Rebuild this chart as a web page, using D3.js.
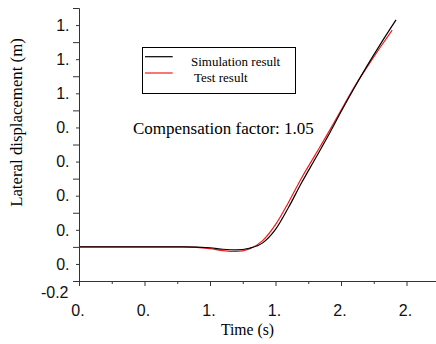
<!DOCTYPE html>
<html>
<head>
<meta charset="utf-8">
<script src="https://cdn.jsdelivr.net/npm/d3@7"></script>
<style>
  html, body { margin: 0; padding: 0; background: #fff; }
  svg { display: block; }
</style>
</head>
<body>
<svg id="chart" width="436" height="344"></svg>
<script>
// ---- data ----
const simTime  = [0, 0.4, 0.8, 1.0, 1.1, 1.2, 1.3, 1.4, 1.5, 1.6, 1.7, 1.8, 1.9, 2.0, 2.1, 2.2, 2.3, 2.42];
const simDisp  = [0, 0, 0, -0.005, -0.014, -0.018, -0.008, 0.022, 0.102, 0.232, 0.377, 0.512, 0.648, 0.792, 0.93, 1.062, 1.187, 1.33];
const testTime = [0, 0.4, 0.8, 1.0, 1.1, 1.2, 1.3, 1.4, 1.5, 1.6, 1.7, 1.8, 1.9, 2.0, 2.1, 2.2, 2.3, 2.39];
const testDisp = [0, 0, 0, -0.01, -0.022, -0.027, -0.012, 0.035, 0.13, 0.262, 0.405, 0.535, 0.665, 0.8, 0.935, 1.055, 1.17, 1.27];

const yMajor = [1.4, 1.2, 1.0, 0.8, 0.6, 0.4, 0.2, 0.0];
const yTickLabels = ["1.", "1.", "1.", "0.", "0.", "0.", "0.", "0."];
const yBottomValue = -0.2;
const yBottomLabel = "-0.2";
const xMajor = [0, 0.5, 1.0, 1.5, 2.0, 2.5];
const xTickLabels = ["0.", "0.", "1.", "1.", "2.", "2."];

const seriesNames = ["Simulation result", "Test result"];
const annotation = "Compensation factor: 1.05";
const xTitle = "Time (s)";
const yTitle = "Lateral displacement (m)";

// ---- layout ----
const SANS = "'Liberation Sans', Arial, sans-serif";
const SERIF = "'Liberation Serif', 'Times New Roman', serif";
const svg = d3.select("#chart");
const x0 = 79, xRight = 436, yBottom = 281, yTop = 8;
const x = d3.scaleLinear().domain([0, (xRight - x0) / 131]).range([x0, xRight]);
const y = d3.scaleLinear().domain([-0.2, 1.4]).range([yBottom, yTop]);
const axisColor = "#333";
const redColor = "#ee1c1c";

// curves
const line = d3.line().x(d => x(d[0])).y(d => y(d[1])).curve(d3.curveMonotoneX);
svg.append("path").datum(testTime.map((t, i) => [t, testDisp[i]]))
  .attr("d", line).attr("fill", "none").attr("stroke", redColor).attr("stroke-width", 1.2);
svg.append("path").datum(simTime.map((t, i) => [t, simDisp[i]]))
  .attr("d", line).attr("fill", "none").attr("stroke", "#000").attr("stroke-width", 1.2);

// y axis
const yMinor = d3.range(8).map(i => -0.1 + 0.2 * i);
const yAxisG = svg.append("g").attr("transform", `translate(${x0},0)`);
yAxisG.call(d3.axisLeft(y).tickValues(yMajor.concat([yBottomValue])).tickSize(6).tickSizeOuter(0).tickFormat(""));
yAxisG.append("g").call(d3.axisLeft(y).tickValues(yMinor).tickSize(3).tickSizeOuter(0).tickFormat(""));
yAxisG.selectAll(".domain").attr("stroke", axisColor);
yAxisG.selectAll(".tick line").attr("stroke", axisColor);
// labels (offset half-step below major ticks, as in the reference)
yAxisG.selectAll("text.ylab").data(yMajor).enter().append("text")
  .attr("class", "ylab")
  .attr("x", -9.5)
  .attr("y", d => y(d - 0.1) + 5.7)
  .attr("text-anchor", "end")
  .style("font-family", SANS)
  .attr("font-size", 16).attr("fill", "#111")
  .text((d, i) => yTickLabels[i]);
yAxisG.append("text")
  .attr("x", -10.5).attr("y", y(yBottomValue) + 16.5)
  .attr("text-anchor", "end")
  .style("font-family", SANS)
  .attr("font-size", 16).attr("fill", "#111")
  .text(yBottomLabel);

// x axis
const xMinor = d3.range(5).map(i => 0.25 + 0.5 * i);
const xAxisG = svg.append("g").attr("transform", `translate(0,${yBottom})`);
xAxisG.call(d3.axisBottom(x).tickValues(xMajor).tickSize(5).tickSizeOuter(0)
  .tickFormat((d, i) => xTickLabels[i]));
xAxisG.append("g").call(d3.axisBottom(x).tickValues(xMinor).tickSize(3).tickSizeOuter(0).tickFormat(""));
xAxisG.selectAll(".domain").attr("stroke", axisColor);
xAxisG.selectAll(".tick line").attr("stroke", axisColor);
xAxisG.selectAll(".tick text")
  .attr("y", 34.5).attr("dy", 0).attr("dx", -1.5)
  .style("font-family", SANS)
  .attr("font-size", 16).attr("fill", "#111");

// titles
svg.append("text")
  .attr("x", 247.5).attr("y", 335)
  .attr("text-anchor", "middle")
  .style("font-family", SERIF)
  .attr("font-size", 15.7).attr("fill", "#000")
  .text(xTitle);
svg.append("text")
  .attr("transform", "translate(22,122.5) rotate(-90)")
  .attr("text-anchor", "middle")
  .style("font-family", SERIF)
  .attr("font-size", 16.8).attr("fill", "#000")
  .text(yTitle);

// legend
const lg = svg.append("g");
lg.append("rect").attr("x", 142.5).attr("y", 47.5).attr("width", 153).attr("height", 46)
  .attr("fill", "#fff").attr("stroke", "#000").attr("stroke-width", 1);
const legendColors = ["#000", redColor];
const legendLineY = [56.7, 73];
const legendTextX = [191, 194];
const legendTextY = [66, 81.7];
seriesNames.forEach((name, i) => {
  lg.append("line").attr("x1", 145).attr("x2", 172.7)
    .attr("y1", legendLineY[i]).attr("y2", legendLineY[i])
    .attr("stroke", legendColors[i]).attr("stroke-width", 1.2);
  lg.append("text").attr("x", legendTextX[i]).attr("y", legendTextY[i])
    .style("font-family", SERIF)
    .attr("font-size", 13).attr("fill", "#000")
    .text(name);
});

// annotation
svg.append("text").attr("x", 133).attr("y", 134)
  .style("font-family", SERIF)
  .attr("font-size", 17).attr("fill", "#000")
  .text(annotation);
</script>
</body>
</html>
